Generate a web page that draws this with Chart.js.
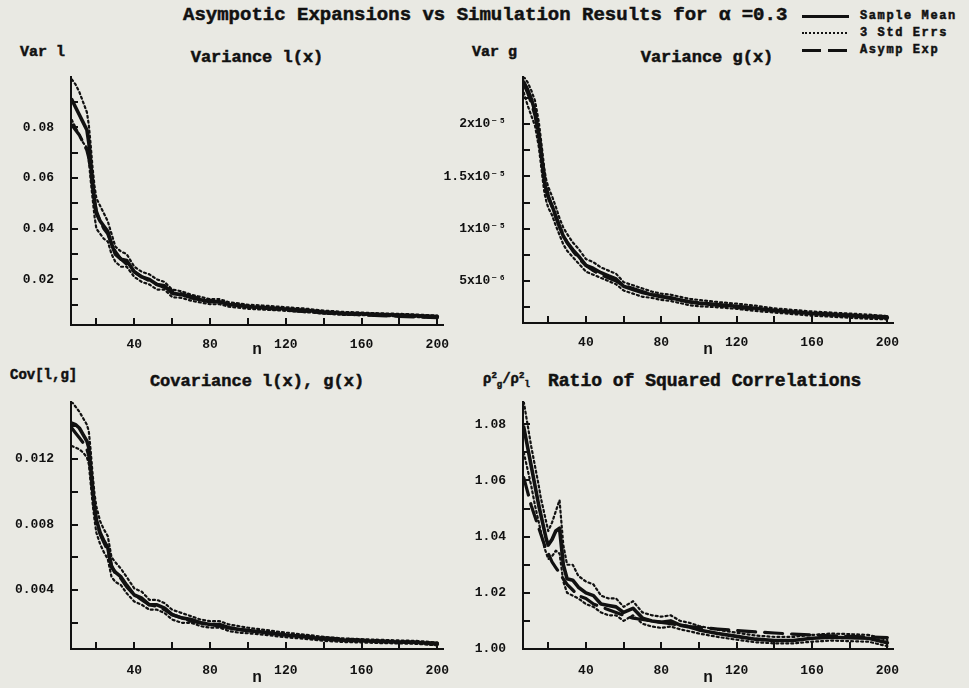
<!DOCTYPE html>
<html>
<head>
<meta charset="utf-8">
<script src="https://cdn.jsdelivr.net/npm/chart.js@4.4.1/dist/chart.umd.min.js"></script>
<style>
  html, body { margin: 0; padding: 0; background: #e9e9e3; }
  #page { position: relative; width: 969px; height: 688px; background: #e9e9e3; overflow: hidden;
          font-family: 'Liberation Mono', monospace; font-weight: bold; color: #111; }
  canvas { position: absolute; }
  .txt { position: absolute; white-space: nowrap; -webkit-text-stroke: 0.5px #111; line-height: 1; }
  .c { transform: translate(-50%, -50%); }
  .l { transform: translateY(-50%); }
  .leg { position: absolute; left: 802px; width: 47px; }
  .legtxt { position: absolute; left: 860px; font-size: 12px; letter-spacing: 1.6px; transform: translateY(-50%); white-space: nowrap; -webkit-text-stroke: 0.5px #111; }
</style>
</head>
<body>
<div id="page">
  <div class="txt l" style="left:183px; top:15px; font-size:19px;">Asympotic Expansions vs Simulation Results for α =0.3</div>

  <div class="leg" style="top:15px; border-top:3px solid #111;"></div>
  <div class="leg" style="top:32px; border-top:2px dotted #111; width:45px;"></div>
  <div class="leg" style="top:49px; height:3px; background:repeating-linear-gradient(90deg,#111 0 19px,transparent 19px 26px);"></div>
  <div class="legtxt" style="top:16px;">Sample Mean</div>
  <div class="legtxt" style="top:33px;">3 Std Errs</div>
  <div class="legtxt" style="top:50px;">Asymp Exp</div>

  <div class="txt l" style="left:20px; top:52px; font-size:15px;">Var l</div>
  <div class="txt c" style="left:257px; top:57px; font-size:17px;">Variance l(x)</div>
  <div class="txt l" style="left:472px; top:52px; font-size:15px;">Var g</div>
  <div class="txt c" style="left:707px; top:57px; font-size:17px;">Variance g(x)</div>
  <div class="txt l" style="left:10px; top:375px; font-size:14px;">Cov[l,g]</div>
  <div class="txt c" style="left:257px; top:381px; font-size:17px;">Covariance l(x), g(x)</div>
  <div class="txt l" style="left:483px; top:381px; font-size:14px;">ρ<sup style="font-size:9px">2</sup><sub style="font-size:9px">g</sub>/ρ<sup style="font-size:9px">2</sup><sub style="font-size:9px">l</sub></div>
  <div class="txt l" style="left:548px; top:381px; font-size:18px;">Ratio of Squared Correlations</div>

  <canvas id="c1" width="462" height="300" style="left:0px; top:60px;"></canvas>
  <canvas id="c2" width="480" height="300" style="left:430px; top:60px;"></canvas>
  <canvas id="c3" width="462" height="303" style="left:0px; top:385px;"></canvas>
  <canvas id="c4" width="480" height="303" style="left:430px; top:385px;"></canvas>
</div>
<script>
// sample sizes n
const nValues = [7,9,11,13,15,16,17,18,19,20,22,24,26,28,30,33,36,40,44,48,52,56,60,65,70,75,80,85,90,95,100,110,120,130,140,150,160,170,180,190,200];

// Variance l(x)
const varLMean = [0.091,0.088,0.085,0.082,0.079,0.074,0.066,0.058,0.051,0.046,0.043,0.041,0.039,0.034,0.030,0.028,0.0275,0.023,0.021,0.020,0.018,0.0175,0.0145,0.014,0.0128,0.012,0.0112,0.0112,0.0101,0.0097,0.0092,0.0088,0.0083,0.0078,0.0071,0.0066,0.0064,0.0061,0.0059,0.0056,0.0053];
const varLHi = [0.099,0.097,0.094,0.090,0.086,0.081,0.073,0.064,0.057,0.052,0.049,0.046,0.043,0.038,0.033,0.031,0.030,0.025,0.023,0.022,0.020,0.019,0.016,0.0153,0.014,0.0131,0.0122,0.0122,0.011,0.0106,0.0100,0.0096,0.009,0.0085,0.0077,0.0072,0.0069,0.0066,0.0064,0.0061,0.0057];
const varLLo = [0.083,0.080,0.077,0.074,0.072,0.067,0.059,0.052,0.045,0.040,0.038,0.036,0.035,0.030,0.027,0.025,0.025,0.021,0.019,0.018,0.016,0.016,0.013,0.0127,0.0116,0.0109,0.0102,0.0102,0.0092,0.0088,0.0084,0.008,0.0076,0.0071,0.0065,0.006,0.0059,0.0056,0.0054,0.0051,0.0049];
const varLAsy = [0.081,0.079,0.077,0.074,0.071,0.068,0.063,0.057,0.051,0.047,0.043,0.040,0.038,0.034,0.031,0.028,0.026,0.023,0.021,0.0195,0.018,0.0168,0.0155,0.0143,0.0133,0.0124,0.0117,0.011,0.0104,0.0099,0.0094,0.0086,0.0079,0.0073,0.0068,0.0064,0.006,0.0057,0.0054,0.0051,0.0049];

// Variance g(x)
const varGMean = [2.40e-5,2.33e-5,2.24e-5,2.12e-5,1.90e-5,1.75e-5,1.60e-5,1.45e-5,1.36e-5,1.30e-5,1.22e-5,1.12e-5,1.02e-5,0.93e-5,0.87e-5,0.80e-5,0.74e-5,0.65e-5,0.62e-5,0.58e-5,0.55e-5,0.52e-5,0.45e-5,0.42e-5,0.39e-5,0.37e-5,0.35e-5,0.34e-5,0.32e-5,0.30e-5,0.29e-5,0.275e-5,0.26e-5,0.24e-5,0.22e-5,0.205e-5,0.19e-5,0.18e-5,0.17e-5,0.16e-5,0.15e-5];
const varGHi = [2.45e-5,2.40e-5,2.32e-5,2.22e-5,2.02e-5,1.87e-5,1.72e-5,1.56e-5,1.46e-5,1.40e-5,1.31e-5,1.21e-5,1.10e-5,1.01e-5,0.95e-5,0.87e-5,0.81e-5,0.71e-5,0.68e-5,0.63e-5,0.60e-5,0.57e-5,0.49e-5,0.46e-5,0.43e-5,0.40e-5,0.38e-5,0.37e-5,0.35e-5,0.33e-5,0.32e-5,0.30e-5,0.285e-5,0.265e-5,0.24e-5,0.225e-5,0.21e-5,0.20e-5,0.19e-5,0.18e-5,0.165e-5];
const varGLo = [2.30e-5,2.18e-5,2.08e-5,1.98e-5,1.78e-5,1.63e-5,1.48e-5,1.34e-5,1.26e-5,1.20e-5,1.13e-5,1.03e-5,0.94e-5,0.85e-5,0.79e-5,0.73e-5,0.67e-5,0.59e-5,0.56e-5,0.53e-5,0.50e-5,0.47e-5,0.41e-5,0.38e-5,0.35e-5,0.34e-5,0.32e-5,0.31e-5,0.29e-5,0.27e-5,0.26e-5,0.25e-5,0.235e-5,0.215e-5,0.20e-5,0.185e-5,0.17e-5,0.16e-5,0.15e-5,0.14e-5,0.135e-5];
const varGAsy = [2.38e-5,2.30e-5,2.20e-5,2.08e-5,1.90e-5,1.77e-5,1.63e-5,1.50e-5,1.40e-5,1.32e-5,1.21e-5,1.11e-5,1.02e-5,0.94e-5,0.87e-5,0.79e-5,0.72e-5,0.65e-5,0.60e-5,0.56e-5,0.53e-5,0.50e-5,0.46e-5,0.43e-5,0.40e-5,0.375e-5,0.355e-5,0.335e-5,0.32e-5,0.305e-5,0.29e-5,0.27e-5,0.25e-5,0.235e-5,0.22e-5,0.205e-5,0.195e-5,0.185e-5,0.175e-5,0.165e-5,0.16e-5];

// Covariance l(x), g(x)
const covMean = [0.0142,0.0141,0.0139,0.0135,0.0131,0.0127,0.0115,0.0102,0.0091,0.0083,0.0075,0.0070,0.0066,0.0054,0.0051,0.0048,0.0043,0.0037,0.0035,0.0031,0.0031,0.0029,0.0025,0.0023,0.0022,0.0020,0.0019,0.0019,0.0017,0.0016,0.00153,0.0014,0.00126,0.00115,0.00102,0.00094,0.0009,0.00086,0.00083,0.0008,0.0007];
const covHi = [0.0155,0.0152,0.0149,0.0145,0.0141,0.0137,0.0125,0.0111,0.0099,0.0091,0.0082,0.0077,0.0073,0.0060,0.0057,0.0053,0.0048,0.0041,0.0039,0.0034,0.0034,0.0032,0.0028,0.0026,0.0024,0.0022,0.0021,0.0021,0.0019,0.0018,0.0017,0.00155,0.0014,0.00128,0.00114,0.00105,0.001,0.00096,0.00092,0.00089,0.00079];
const covLo = [0.0128,0.0127,0.0126,0.0124,0.0121,0.0117,0.0105,0.0093,0.0083,0.0075,0.0068,0.0063,0.0059,0.0048,0.0045,0.0043,0.0038,0.0033,0.0031,0.0028,0.0028,0.0026,0.0022,0.0020,0.0020,0.0018,0.0017,0.0017,0.0015,0.0014,0.00136,0.00125,0.00112,0.00102,0.0009,0.00083,0.0008,0.00076,0.00074,0.00071,0.00062];
const covAsy = [0.0139,0.0136,0.0133,0.013,0.0126,0.0122,0.0113,0.0101,0.0090,0.0082,0.0074,0.0069,0.0064,0.0055,0.0050,0.0047,0.0042,0.0037,0.0034,0.0031,0.0030,0.0028,0.0025,0.0023,0.0021,0.0020,0.0019,0.0018,0.0017,0.0016,0.00152,0.00139,0.00127,0.00117,0.00108,0.00101,0.00095,0.00089,0.00084,0.0008,0.00076];

// Ratio of squared correlations
const ratioMean = [1.079,1.072,1.065,1.058,1.051,1.048,1.045,1.042,1.039,1.037,1.039,1.042,1.043,1.030,1.025,1.0245,1.022,1.020,1.019,1.016,1.0155,1.015,1.013,1.0145,1.011,1.010,1.0095,1.010,1.0085,1.0078,1.0068,1.0055,1.0045,1.0035,1.003,1.003,1.0038,1.0042,1.004,1.0038,1.0022];
const ratioHi = [1.088,1.080,1.072,1.065,1.058,1.054,1.051,1.048,1.045,1.042,1.045,1.049,1.053,1.037,1.030,1.030,1.026,1.024,1.023,1.019,1.018,1.018,1.015,1.017,1.013,1.012,1.0115,1.012,1.010,1.0093,1.0082,1.0068,1.0058,1.0048,1.0043,1.0043,1.005,1.0055,1.0053,1.005,1.0032];
const ratioLo = [1.070,1.064,1.058,1.051,1.045,1.042,1.039,1.036,1.034,1.032,1.033,1.035,1.034,1.024,1.020,1.019,1.018,1.016,1.015,1.013,1.012,1.012,1.010,1.012,1.009,1.008,1.0075,1.008,1.007,1.0063,1.0055,1.0043,1.0033,1.0024,1.002,1.002,1.0026,1.003,1.0028,1.0026,1.001];
const ratioAsy = [1.061,1.056,1.051,1.047,1.043,1.041,1.039,1.037,1.035,1.034,1.031,1.029,1.027,1.025,1.023,1.021,1.019,1.018,1.016,1.015,1.014,1.013,1.012,1.011,1.0105,1.010,1.0095,1.009,1.0085,1.008,1.0077,1.0071,1.0066,1.0061,1.0057,1.0053,1.005,1.0047,1.0045,1.0043,1.0041];

// ticks
const xTicks = [20,40,60,80,100,120,140,160,180,200];
const xLabels = [40,80,120,160,200];
const varLTicks = [0.01,0.02,0.03,0.04,0.05,0.06,0.07,0.08,0.09];
const varLLabels = [[0.02,'0.02'],[0.04,'0.04'],[0.06,'0.06'],[0.08,'0.08']];
const varGTicks = [2.5e-6,5e-6,7.5e-6,1e-5,1.25e-5,1.5e-5,1.75e-5,2e-5,2.25e-5];
const varGLabels = [[5e-6,'5x10⁻⁶'],[1e-5,'1x10⁻⁵'],[1.5e-5,'1.5x10⁻⁵'],[2e-5,'2x10⁻⁵']];
const covTicks = [0.002,0.004,0.006,0.008,0.010,0.012,0.014];
const covLabels = [[0.004,'0.004'],[0.008,'0.008'],[0.012,'0.012']];
const ratioTicks = [1.00,1.01,1.02,1.03,1.04,1.05,1.06,1.07,1.08];
const ratioLabels = [[1.00,'1.00'],[1.02,'1.02'],[1.04,'1.04'],[1.06,'1.06'],[1.08,'1.08']];

Chart.defaults.font.family = "'Liberation Mono', 'DejaVu Sans Mono', monospace";
Chart.defaults.font.weight = 'bold';
Chart.defaults.font.size = 13;
Chart.defaults.color = '#111';

const ink = '#111';

// tick marks drawn inside the plot, like the original
const innerTicks = {
  id: 'innerTicks',
  afterDatasetsDraw(chart){
    const {ctx, chartArea:a, scales:{x, y}} = chart;
    ctx.save();
    ctx.strokeStyle = ink; ctx.lineWidth = 2;
    ctx.beginPath();
    x.ticks.forEach(t=>{ const p = Math.round(x.getPixelForValue(t.value)); ctx.moveTo(p, a.bottom); ctx.lineTo(p, a.bottom-7); });
    y.ticks.forEach(t=>{ const p = Math.round(y.getPixelForValue(t.value)); ctx.moveTo(a.left, p); ctx.lineTo(a.left+7, p); });
    ctx.stroke();
    ctx.restore();
  }
};

function pts(ys){ return nValues.map((n,i)=>({x:n, y:ys[i]})); }

function makeChart(id, o){
  return new Chart(document.getElementById(id), {
    type: 'line',
    data: {
      datasets: [
        {label:'Asymp Exp', data:pts(o.asy), borderColor:ink, borderWidth:3.2, borderDash:[18,9]},
        {label:'3 Std Errs', data:pts(o.hi), borderColor:ink, borderWidth:2.2, borderDash:[2,3]},
        {label:'3 Std Errs', data:pts(o.lo), borderColor:ink, borderWidth:2.2, borderDash:[2,3]},
        {label:'Sample Mean', data:pts(o.mean), borderColor:ink, borderWidth:3.6}
      ]
    },
    options: {
      responsive:false, animation:false, devicePixelRatio:1,
      layout:{padding:{top:o.padTop, right:o.padRight, left:0, bottom:0}},
      elements:{point:{radius:0}, line:{tension:0, borderCapStyle:'round', borderJoinStyle:'round'}},
      plugins:{legend:{display:false}, tooltip:{enabled:false}},
      scales:{
        x:{
          type:'linear', min:6.6, max:203,
          grid:{display:false}, border:{display:true, color:ink, width:2},
          afterBuildTicks: s=>{ s.ticks = xTicks.map(v=>({value:v})); },
          afterFit: s=>{ s.height = o.xHeight; },
          ticks:{autoSkip:false, maxRotation:0, padding:o.xPad,
                 callback: v=> xLabels.includes(v) ? String(v) : ''},
          title:{display:true, text:'n', font:{size:16, weight:'bold'}, padding:{top:0, bottom:0}}
        },
        y:{
          type:'linear', min:o.yMin, max:o.yMax,
          grid:{display:false}, border:{display:true, color:ink, width:2},
          afterBuildTicks: s=>{ s.ticks = o.ticks.map(v=>({value:v})); },
          afterFit: s=>{ s.width = o.yWidth; },
          ticks:{autoSkip:false, padding:9,
                 callback: v=>{ const m = o.labels.find(l=>Math.abs(l[0]-v) < Math.abs(v)*1e-6); return m ? m[1] : ''; }}
        }
      }
    },
    plugins:[innerTicks]
  });
}

makeChart('c1', {mean:varLMean, hi:varLHi, lo:varLLo, asy:varLAsy, yMin:0.002, yMax:0.1,
  ticks:varLTicks, labels:varLLabels, padTop:10, padRight:19, yWidth:71, xHeight:35, xPad:4});
makeChart('c2', {mean:varGMean, hi:varGHi, lo:varGLo, asy:varGAsy, yMin:1e-6, yMax:2.45e-5,
  ticks:varGTicks, labels:varGLabels, padTop:10, padRight:17, yWidth:93, xHeight:37, xPad:4});
makeChart('c3', {mean:covMean, hi:covHi, lo:covLo, asy:covAsy, yMin:0.0004, yMax:0.0155,
  ticks:covTicks, labels:covLabels, padTop:8, padRight:19, yWidth:71, xHeight:39, xPad:6});
makeChart('c4', {mean:ratioMean, hi:ratioHi, lo:ratioLo, asy:ratioAsy, yMin:1.0, yMax:1.088,
  ticks:ratioTicks, labels:ratioLabels, padTop:10, padRight:17, yWidth:93, xHeight:39, xPad:6});
</script>
</body>
</html>
